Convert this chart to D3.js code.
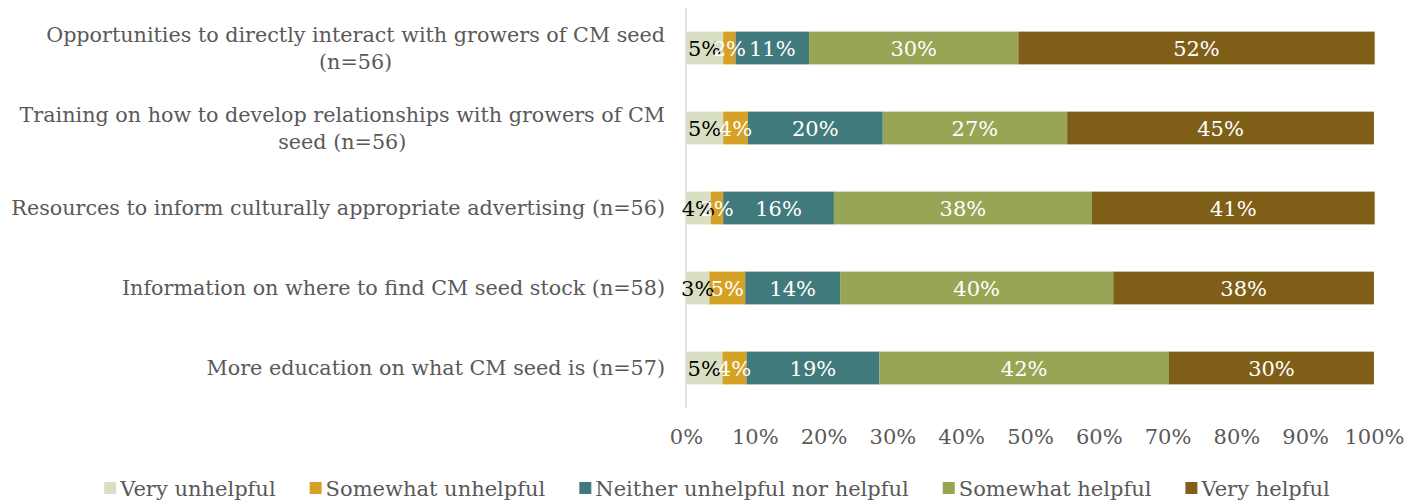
<!DOCTYPE html>
<html>
<head>
<meta charset="utf-8">
<script src="https://cdn.jsdelivr.net/npm/d3@7"></script>
<style>
  html, body { margin: 0; padding: 0; background: #fff; }
  svg { display: block; }
  text { font-family: "DejaVu Serif", serif; }
</style>
</head>
<body>
<svg id="chart" width="1420" height="504"></svg>
<script>
// Survey items (line breaks where the label wraps)
const categories = [
  ["Opportunities to directly interact with growers of CM seed", "(n=56)"],
  ["Training on how to develop relationships with growers of CM", "seed (n=56)"],
  ["Resources to inform culturally appropriate advertising (n=56)"],
  ["Information on where to find CM seed stock (n=58)"],
  ["More education on what CM seed is (n=57)"]
];

const seriesNames = ["Very unhelpful", "Somewhat unhelpful", "Neither unhelpful nor helpful", "Somewhat helpful", "Very helpful"];
const seriesColors = ["#d8dfc3", "#d6a226", "#417a7c", "#97a555", "#7f5f18"];
const labelColors = ["#000000", "#ffffff", "#ffffff", "#ffffff", "#ffffff"];

// Percent of respondents per response level, one array per level (rows follow categories)
const veryUnhelpful     = [5.4, 5.4, 3.6, 3.4, 5.3];
const somewhatUnhelpful = [1.8, 3.6, 1.8, 5.2, 3.5];
const neither           = [10.7, 19.6, 16.1, 13.8, 19.3];
const somewhatHelpful   = [30.4, 26.8, 37.5, 39.7, 42.1];
const veryHelpful       = [51.8, 44.6, 41.1, 37.9, 29.8];

const tickValues = [0, 10, 20, 30, 40, 50, 60, 70, 80, 90, 100];

const seriesValues = [veryUnhelpful, somewhatUnhelpful, neither, somewhatHelpful, veryHelpful];
const rows = categories.map((c, i) => {
  const r = { idx: i };
  seriesNames.forEach((s, k) => { r[s] = seriesValues[k][i]; });
  return r;
});

const svg = d3.select("#chart");
const plot = { left: 686, right: 1374, top: 8, bottom: 408 };
const fontSize = 21;
const catFontSize = 20.7;

const x = d3.scaleLinear().domain([0, 100]).range([plot.left, plot.right]);
const y = d3.scaleBand().domain(d3.range(categories.length))
  .range([plot.top, plot.bottom]).paddingInner(0.59).paddingOuter(0.295);

const stacked = d3.stack().keys(seriesNames)(rows);
const fmt = v => Math.round(v) + "%";

// Bars
const groups = svg.append("g").selectAll("g").data(stacked).join("g")
  .attr("fill", (d, k) => seriesColors[k]);
groups.selectAll("rect").data(d => d).join("rect")
  .attr("x", d => x(d[0]))
  .attr("width", d => x(d[1]) - x(d[0]))
  .attr("y", d => y(d.data.idx))
  .attr("height", y.bandwidth());

// Vertical axis line
svg.append("line")
  .attr("x1", plot.left).attr("x2", plot.left)
  .attr("y1", plot.top).attr("y2", plot.bottom)
  .attr("stroke", "#d9d9d9").attr("stroke-width", 1.5);

// Value labels
stacked.forEach((layer, k) => {
  svg.append("g").selectAll("text").data(layer).join("text")
    .attr("x", d => (x(d[0]) + x(d[1])) / 2)
    .attr("y", d => y(d.data.idx) + y.bandwidth() / 2)
    .attr("dy", "0.36em")
    .attr("text-anchor", "middle")
    .attr("font-size", fontSize)
    .attr("fill", labelColors[k])
    .text(d => fmt(d[1] - d[0]));
});

// X axis tick labels
const xAxis = d3.axisBottom(x).tickValues(tickValues).tickFormat(d => d + "%").tickSize(0).tickPadding(0);
const gx = svg.append("g").attr("transform", `translate(0, ${plot.bottom + 21})`).call(xAxis);
gx.select(".domain").remove();
gx.selectAll("text").attr("font-size", fontSize).attr("fill", "#595959")
  .attr("font-family", "DejaVu Serif, serif");

// Category labels: lines centred on each other, block right-aligned
const labelRight = 665;
categories.forEach((lines, i) => {
  const g = svg.append("g");
  const cy = y(i) + y.bandwidth() / 2;
  const lh = 27;
  const texts = lines.map((t, j) => g.append("text")
    .attr("font-size", catFontSize).attr("fill", "#595959")
    .attr("y", cy + (j - (lines.length - 1) / 2) * lh)
    .attr("dy", "0.36em")
    .attr("text-anchor", "middle")
    .text(t));
  const maxW = d3.max(texts, t => t.node().getComputedTextLength());
  texts.forEach(t => t.attr("x", labelRight - maxW / 2));
});

// Legend
const legend = svg.append("g");
const items = seriesNames.map((name, k) => {
  const g = legend.append("g");
  g.append("rect").attr("width", 12).attr("height", 12).attr("y", -6).attr("fill", seriesColors[k]);
  const t = g.append("text").attr("x", 16).attr("dy", "0.36em").attr("font-size", fontSize)
    .attr("fill", "#595959").text(name);
  return { g, w: 16 + t.node().getComputedTextLength() };
});
const gap = 34;
const total = d3.sum(items, d => d.w) + gap * (items.length - 1);
let lx = 717 - total / 2;
items.forEach(it => { it.g.attr("transform", `translate(${lx}, 488)`); lx += it.w + gap; });
</script>
</body>
</html>
